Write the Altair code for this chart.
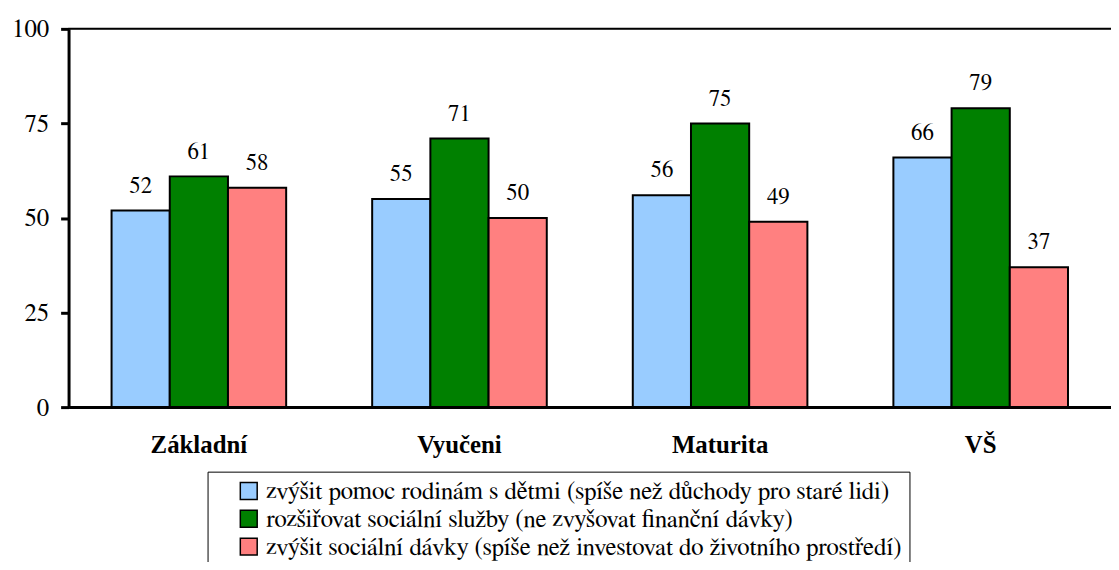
import altair as alt
import pandas as pd

categories = ["Základní", "Vyučeni", "Maturita", "VŠ"]
series = [
    "zvýšit pomoc rodinám s dětmi (spíše než důchody pro staré lidi)",
    "rozšiřovat sociální služby (ne zvyšovat finanční dávky)",
    "zvýšit sociální dávky (spíše než investovat do životního prostředí)",
]
values_families = [52, 55, 56, 66]
values_services = [61, 71, 75, 79]
values_benefits = [58, 50, 49, 37]
colors = ["#99CCFF", "#008000", "#FF8080"]
y_ticks = [0, 25, 50, 75, 100]
top_line = [100]

rows = []
for s, vals in zip(series, [values_families, values_services, values_benefits]):
    for c, v in zip(categories, vals):
        rows.append({"category": c, "series": s, "value": v})
df = pd.DataFrame(rows)

BOLD_FONT = "Liberation Serif"
FONT = "FreeSerif"

base = alt.Chart(df).encode(
    x=alt.X(
        "category:N",
        sort=categories,
        scale=alt.Scale(paddingInner=0.33, paddingOuter=0.165),
        axis=alt.Axis(
            title=None, labelAngle=0, labelFont=BOLD_FONT, labelFontSize=25,
            labelFontWeight="bold", labelColor="black", domainColor="black",
            domainWidth=3, ticks=False, labelPadding=26,
        ),
    ),
    xOffset=alt.XOffset("series:N", sort=series),
    y=alt.Y(
        "value:Q",
        scale=alt.Scale(domain=[0, 100]),
        axis=alt.Axis(
            values=y_ticks, grid=False, title=None, labelFont=FONT,
            labelFontSize=25, labelColor="black", labelPadding=12,
            tickSize=8, tickWidth=3, tickColor="black", domainColor="black",
            domainWidth=3,
        ),
    ),
)

bars = base.mark_bar(stroke="black", strokeWidth=2).encode(
    color=alt.Color(
        "series:N",
        sort=series,
        scale=alt.Scale(domain=series, range=colors),
        legend=alt.Legend(
            title=None, orient="none", legendX=140, legendY=446,
            strokeColor="black", padding=7, symbolOffset=22,
            symbolType="square", symbolSize=289, symbolStrokeColor="black",
            symbolStrokeWidth=1.5, symbolOpacity=1, labelFont=FONT,
            labelFontSize=25, labelColor="black", rowPadding=2, labelOffset=5,
            labelLimit=1000,
        ),
    )
)

labels = base.mark_text(
    dy=-18, baseline="alphabetic", font=FONT, fontSize=23, color="black",
).encode(text="value:Q")

top = alt.Chart(pd.DataFrame({"value": top_line})).mark_rule(
    color="black", strokeWidth=2
).encode(y="value:Q")

chart = (
    alt.layer(bars, labels, top)
    .properties(
        width=1050,
        height=381,
        autosize=alt.AutoSizeParams(type="none"),
        padding={"left": 61, "top": 19, "right": 0, "bottom": 154},
    )
    .configure_view(stroke=None)
    .configure_legend(strokeWidth=2)
    .configure(background="white")
)

chart.save("out.html", embed_options={"renderer": "svg", "actions": False})
